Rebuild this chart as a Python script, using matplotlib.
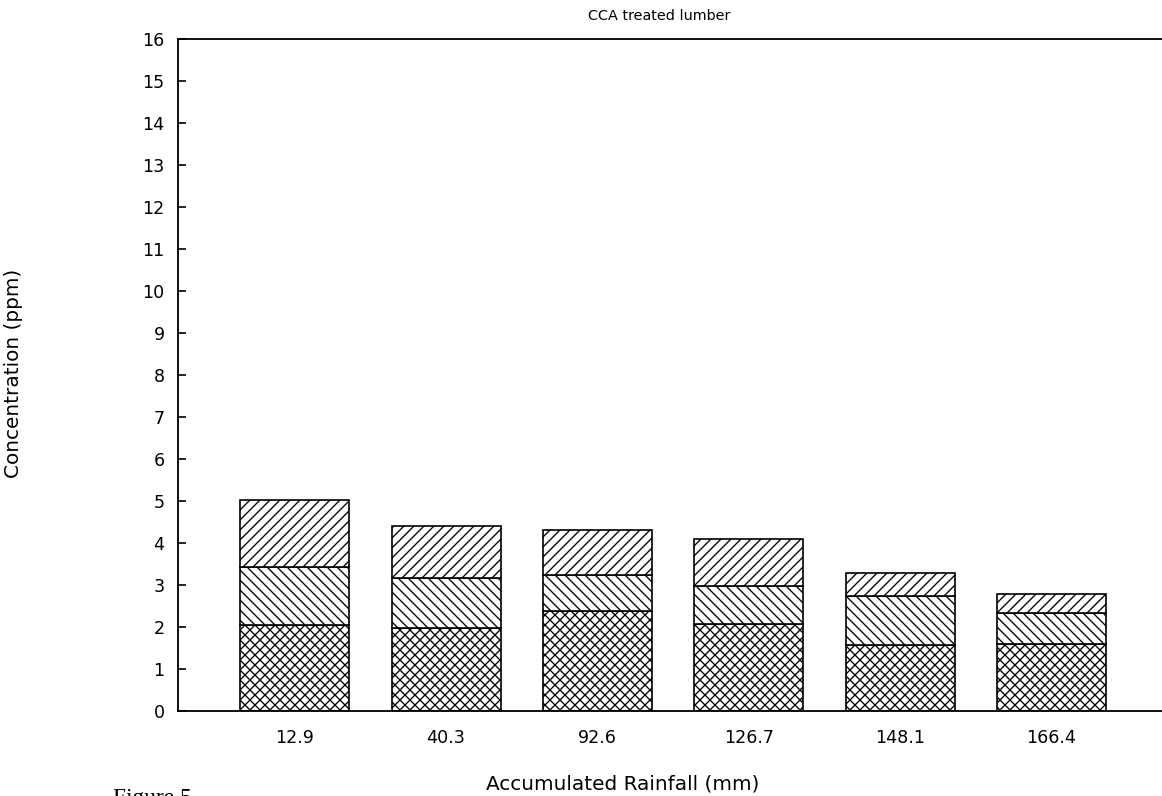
import matplotlib
matplotlib.use("Agg")
import matplotlib.pyplot as plt
import numpy as np

# Data
rainfall_labels = ["12.9", "40.3", "92.6", "126.7", "148.1", "166.4"]
bottom_seg = [2.04, 1.97, 2.37, 2.08, 1.56, 1.59]   # cross-hatched
middle_seg = [1.38, 1.20, 0.87, 0.90, 1.19, 0.74]   # back-slash hatched
top_seg    = [1.60, 1.23, 1.06, 1.12, 0.53, 0.46]   # forward-slash hatched
y_ticks = list(range(0, 17))

DPI = 120
plt.rcParams['hatch.linewidth'] = 0.8
plt.rcParams['font.family'] = ['DejaVu Sans']

fig = plt.figure(figsize=(1162 / DPI, 796 / DPI), dpi=DPI)
ax = fig.add_axes([178 / 1162, 1 - 711 / 796, 1 - 178 / 1162, (711 - 39) / 796])

x = np.arange(len(rainfall_labels))
w = 0.72
b1 = np.array(bottom_seg)
b2 = b1 + np.array(middle_seg)
kw = dict(width=w, color='white', edgecolor='black', linewidth=1.0)
ax.bar(x, bottom_seg, hatch='xxxx', **kw)
ax.bar(x, middle_seg, bottom=b1, hatch='\\\\\\\\', **kw)
ax.bar(x, top_seg, bottom=b2, hatch='////', **kw)

ax.set_xlim(-0.771, 5.73)
ax.set_ylim(0, 16)
ax.set_yticks(y_ticks)
ax.set_xticks(x)
ax.set_xticklabels(rainfall_labels, fontsize=10.5)
ax.tick_params(axis='y', direction='in', length=4.5, width=1.0, pad=8, labelsize=10.5)
ax.tick_params(axis='x', length=0, pad=11)

for s in ['left', 'top', 'bottom']:
    ax.spines[s].set_linewidth(1.1)
ax.spines['right'].set_visible(False)

ax.set_xlabel("Accumulated Rainfall (mm)", fontsize=12)
ax.xaxis.set_label_coords((623 - 178) / (1162 - 178), -(775 - 711) / 672)
ax.set_ylabel("Concentration (ppm)", fontsize=12)
ax.yaxis.set_label_coords(-(178 - 23) / (1162 - 178), (711 - 373) / 672)

fig.text(659 / 1162, 1 - 16 / 796, "CCA treated lumber", ha='center', va='center', fontsize=8.6)
fig.text(113 / 1162, 8 / 796, "Figure 5", ha='left', va='top',
         family=['Liberation Serif', 'DejaVu Serif'], fontsize=14)

fig.savefig("out.png", dpi=DPI, facecolor='white')
